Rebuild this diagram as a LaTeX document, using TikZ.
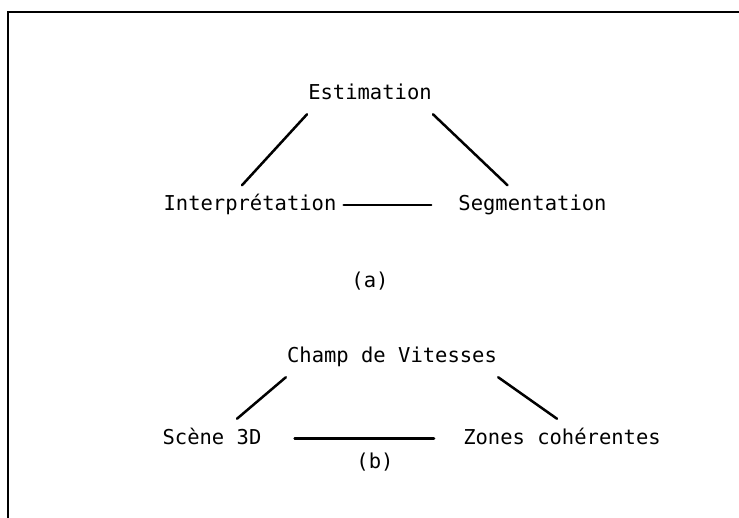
\documentclass[tikz,border=0pt]{standalone}
\usepackage{fontspec}
\newfontfamily\typefont{DejaVu Sans Mono}
\usetikzlibrary{positioning}

\begin{document}
\begin{tikzpicture}[line width=2.5pt,line cap=round,on grid,
    term/.style={font=\typefont\fontsize{20.5}{24}\selectfont,inner xsep=0pt,inner ysep=9pt,text height=15pt,text depth=4pt}]
    \useasboundingbox (0,0) rectangle (739pt,-518pt);
    % frame, cut off at the right and bottom
    \draw[line width=2pt,line cap=butt] (8pt,-518pt) -- (8pt,-12pt) -- (739pt,-12pt);
    \node[term] (estim) at (370pt,-94.5pt) {Estimation};
    \node[term] (interp) [below left=110.5pt and 120pt of estim] {Interprétation};
    \node[term] (segm) [right=282.5pt of interp] {Segmentation};
    \node[term] (capa) [below=188pt of estim] {(a)};
    \node[term] (champ) [below right=263pt and 22pt of estim] {Champ de Vitesses};
    \node[term] (scene) [below left=81pt and 180pt of champ] {Scène 3D};
    \node[term] (zones) [right=350pt of scene] {Zones cohérentes};
    \node[term] (capb) [below right=24pt and 163pt of scene] {(b)};
    \path
    (estim.south west) edge ([xshift=-8pt]interp.north)
    (estim.south east) edge ([xshift=-25pt]segm.north)
    (interp.east) edge [shorten <=6pt,shorten >=26pt] (segm.west)
    (champ.south west) edge ([xshift=25pt]scene.north)
    (champ.south east) edge ([xshift=-5pt]zones.north)
    (scene.east) edge [shorten <=32pt,shorten >=28pt] (zones.west);
\end{tikzpicture}
\end{document}
